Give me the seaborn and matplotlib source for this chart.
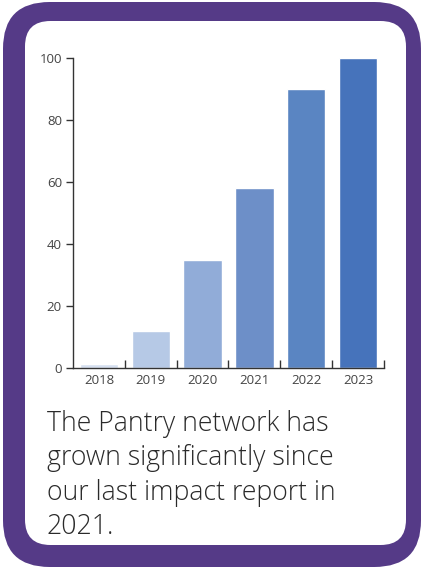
import matplotlib.pyplot as plt
import seaborn as sns
from matplotlib.patches import FancyBboxPatch
from matplotlib.ticker import FixedLocator

years = ['2018', '2019', '2020', '2021', '2022', '2023']
pantries = [1.3, 12, 35, 58, 90, 100]
bar_colors = ['#d6e0f1', '#b6c9e6', '#91acd8', '#6d8fc8', '#5a85c2', '#4673bb']
caption = 'The Pantry network has\ngrown significantly since\nour last impact report in\n2021.'

sns.set_theme(style='white')
plt.rcParams['font.family'] = ['Open Sans', 'DejaVu Sans']

W, H = 424, 572
fig = plt.figure(figsize=(W / 100, H / 100), dpi=100)

# purple card with white inside, kept behind the axes
outer = FancyBboxPatch((3 / W, 5 / H), 418 / W, 565 / H,
                       boxstyle='round,pad=0,rounding_size=0.11',
                       transform=fig.transFigure, facecolor='#553a87',
                       edgecolor='none', mutation_aspect=W / H, zorder=-2)
inner = FancyBboxPatch((25 / W, 27 / H), 381 / W, 524 / H,
                       boxstyle='round,pad=0,rounding_size=0.06',
                       transform=fig.transFigure, facecolor='white',
                       edgecolor='none', mutation_aspect=W / H, zorder=-1)
fig.patches.extend([outer, inner])

ax = fig.add_axes([73 / W, 1 - 368 / H, 311 / W, 310 / H])
ax.patch.set_alpha(0)
sns.barplot(x=years, y=pantries, hue=years, palette=bar_colors, legend=False,
            width=0.74, saturation=1, ax=ax)
ax.set_xlim(-0.5, 5.5)
ax.set_ylim(0, 100)
ax.set_yticks([0, 20, 40, 60, 80, 100])
ax.set_xlabel('')
ax.set_ylabel('')
sns.despine(ax=ax)
for s in ['left', 'bottom']:
    ax.spines[s].set_color('#333333')
    ax.spines[s].set_linewidth(1.0)

ax.xaxis.set_minor_locator(FixedLocator([0.5, 1.5, 2.5, 3.5, 4.5, 5.5]))
ax.tick_params(axis='x', which='major', length=0, pad=4, labelsize=9.5, labelcolor='#444444')
ax.tick_params(axis='x', which='minor', bottom=True, direction='in', length=6, width=1,
               color='#333333')
ax.tick_params(axis='y', which='major', direction='out', length=5, width=1, color='#333333',
               pad=3, labelsize=9.5, labelcolor='#444444', left=True)

fig.text(47 / W, 1 - 410 / H, caption, ha='left', va='top', fontsize=19.2,
         color='#2a2a2a', linespacing=1.3, fontweight='light')

fig.savefig('out.png', dpi=100)
